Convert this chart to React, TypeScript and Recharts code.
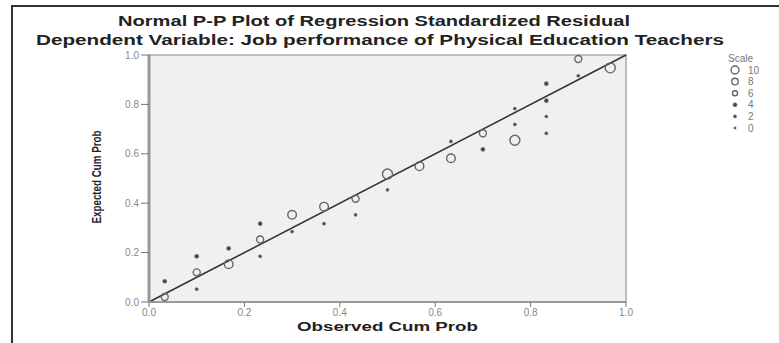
import { ScatterChart, Scatter, XAxis, YAxis, ReferenceArea, ReferenceLine } from 'recharts';

// observed cum prob, expected cum prob, and the scale (count) of each point
const observed = [
  0.033, 0.033, 0.1, 0.1, 0.1, 0.167, 0.167, 0.233, 0.233, 0.233, 0.3, 0.3, 0.367, 0.367, 0.433, 0.433, 0.5,
  0.5, 0.567, 0.633, 0.633, 0.7, 0.7, 0.767, 0.767, 0.767, 0.833, 0.833, 0.833, 0.833, 0.9, 0.9, 0.967,
];
const expected = [
  0.02, 0.084, 0.185, 0.12, 0.052, 0.217, 0.153, 0.317, 0.253, 0.185, 0.353, 0.285, 0.386, 0.317, 0.418, 0.353,
  0.518, 0.454, 0.55, 0.65, 0.582, 0.683, 0.618, 0.783, 0.719, 0.655, 0.884, 0.815, 0.751, 0.683, 0.984, 0.916,
  0.948,
];
const scale = [6, 4, 4, 6, 2, 4, 8, 4, 6, 2, 8, 2, 8, 2, 6, 2, 10, 2, 8, 2, 8, 6, 4, 2, 2, 10, 4, 4, 2, 2, 6, 2, 10];

const ticks = [0, 0.2, 0.4, 0.6, 0.8, 1.0];
const legendScale = [10, 8, 6, 4, 2, 0];

const points = observed.map((x, i) => ({ x, y: expected[i], s: scale[i] }));

function Marker({ cx, cy, s, legend }: { cx: number; cy: number; s: number; legend?: boolean }) {
  if (s >= 6) {
    const r = s === 10 ? 5 : s === 8 ? 4.3 : 3.5;
    return <circle cx={cx} cy={cy} r={legend ? r - 1 : r} fill="none" stroke="#666" strokeWidth={1.4} />;
  }
  const r = s === 4 ? 2.1 : s === 2 ? 1.6 : 1.2;
  return <circle cx={cx} cy={cy} r={r} fill="#444" stroke="#888" strokeWidth={0.6} />;
}

const tickStyle = { fontSize: 10, fill: '#888', fontFamily: 'Liberation Sans, Arial, sans-serif' };
const fmt = (v: number) => v.toFixed(1);

export default function App() {
  return (
    <div style={{ position: 'absolute', left: 0, top: 0, width: 779, height: 343, background: '#fff', overflow: 'hidden' }}>
      <ScatterChart width={779} height={343} margin={{ top: 55, right: 153, bottom: 0, left: 0 }}>
        <XAxis
          type="number"
          dataKey="x"
          domain={[0, 1]}
          ticks={ticks}
          tickFormatter={fmt}
          height={41}
          tick={tickStyle}
          axisLine={{ stroke: '#999', strokeWidth: 2 }}
          tickLine={{ stroke: '#777' }}
          tickSize={5}
        />
        <YAxis
          type="number"
          dataKey="y"
          domain={[0, 1]}
          ticks={ticks}
          tickFormatter={fmt}
          width={149}
          tick={tickStyle}
          axisLine={{ stroke: '#999', strokeWidth: 3 }}
          tickLine={{ stroke: '#777' }}
          tickSize={8}
        />
        <ReferenceArea x1={0} x2={1} y1={0} y2={1} fill="#f0f0f0" fillOpacity={1} stroke="#aaa" strokeWidth={1.5} />
        <ReferenceLine
          segment={[
            { x: 0, y: 0 },
            { x: 1, y: 1 },
          ]}
          stroke="#333"
          strokeWidth={1.6}
        />
        <Scatter
          data={points}
          isAnimationActive={false}
          shape={(p: any) => <Marker cx={p.cx} cy={p.cy} s={p.payload.s} />}
        />
      </ScatterChart>
      <svg
        width={779}
        height={343}
        style={{ position: 'absolute', left: 0, top: 0, pointerEvents: 'none' }}
        fontFamily="Liberation Sans, Arial, sans-serif"
      >
        <rect x={12} y={6} width={800} height={400} fill="none" stroke="#333" strokeWidth={2} />
        <text x={118} y={26} fontSize={14} fontWeight="bold" fill="#222" textLength={512} lengthAdjust="spacingAndGlyphs">
          Normal P-P Plot of Regression Standardized Residual
        </text>
        <text x={36} y={45} fontSize={14} fontWeight="bold" fill="#222" textLength={688} lengthAdjust="spacingAndGlyphs">
          Dependent Variable: Job performance of Physical Education Teachers
        </text>
        <text
          x={0}
          y={0}
          fontSize={12}
          fontWeight="bold"
          fill="#222"
          textAnchor="middle"
          textLength={93}
          lengthAdjust="spacingAndGlyphs"
          transform="translate(101,177) rotate(-90)"
        >
          Expected Cum Prob
        </text>
        <text x={297} y={331} fontSize={13} fontWeight="bold" fill="#222" textLength={181} lengthAdjust="spacingAndGlyphs">
          Observed Cum Prob
        </text>
        <text x={728} y={62} fontSize={10} fill="#777">
          Scale
        </text>
        {legendScale.map((s, i) => (
          <g key={s}>
            <Marker cx={735} cy={70 + i * 11.6} s={s} legend />
            <text x={748} y={73.5 + i * 11.6} fontSize={10} fill="#777">
              {s}
            </text>
          </g>
        ))}
      </svg>
    </div>
  );
}
